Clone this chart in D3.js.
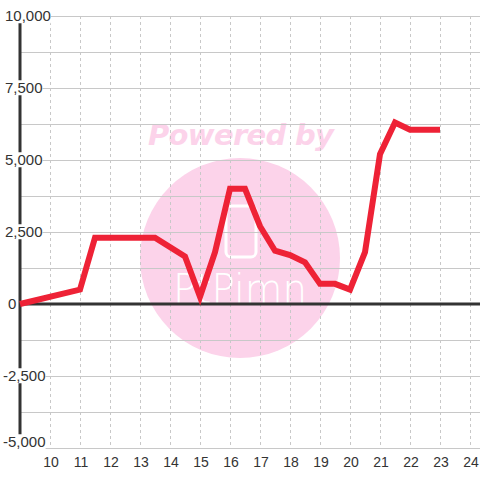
<!DOCTYPE html>
<meta charset="utf-8">
<head>
  <title>Line chart</title>
</head>
<script src="https://d3js.org/d3.v7.min.js"></script>
<body style="margin:0;background:#fff">
  <div id="my_dataviz"></div>
</body>

<script>
  // data
  var xValues = [9, 11, 11.5, 13.5, 14.5, 15, 15.5, 16, 16.5, 17, 17.5, 18, 18.5, 19, 19.5, 20, 20.5, 21, 21.5, 22, 23];
  var yValues = [0, 500, 2300, 2300, 1650, 250, 1800, 4000, 4000, 2700, 1850, 1700, 1450, 700, 700, 500, 1800, 5200, 6300, 6050, 6050];
  var xTicks = [10, 11, 12, 13, 14, 15, 16, 17, 18, 19, 20, 21, 22, 23, 24];
  var yTicks = [10000, 7500, 5000, 2500, 0, -2500, -5000];
  var yGrid = d3.range(-5000, 10001, 1250);

  var data = xValues.map(function (d, i) { return { x: d, y: yValues[i] } });

  var width = 480, height = 480;
  var svg = d3.select("#my_dataviz")
    .append("svg")
    .attr("width", width)
    .attr("height", height)
    .style("display", "block")
    .style("font-family", "'Liberation Sans', Arial, sans-serif");

  var x = d3.scaleLinear().domain([9, 24 + 1 / 3]).range([20, 480]);
  var y = d3.scaleLinear().domain([-5000, 10000]).range([448, 16]);

  // watermark sits under the grid
  var wm = svg.append("g");
  wm.append("text")
    .attr("x", 241).attr("y", 145)
    .attr("text-anchor", "middle")
    .attr("font-family", "'DejaVu Sans', sans-serif")
    .attr("font-weight", "bold")
    .attr("font-style", "italic")
    .attr("font-size", 29)
    .attr("textLength", 186)
    .attr("fill", "#fcd3ea")
    .text("Powered by");
  wm.append("circle")
    .attr("cx", 240).attr("cy", 258).attr("r", 100)
    .attr("fill", "#fcd3ea");
  wm.append("rect")
    .attr("x", 226).attr("y", 206).attr("width", 30).attr("height", 51).attr("rx", 5)
    .attr("fill", "none").attr("stroke", "#fff").attr("stroke-width", 3);
  wm.append("text")
    .attr("x", 240).attr("y", 303)
    .attr("text-anchor", "middle")
    .attr("font-family", "'DejaVu Sans', sans-serif")
    .attr("font-weight", 200)
    .attr("font-size", 40)
    .attr("textLength", 134)
    .attr("lengthAdjust", "spacingAndGlyphs")
    .attr("fill", "#fff")
    .text("PtPimn");

  // grid
  svg.append("g")
    .selectAll("line")
    .data(yGrid)
    .enter().append("line")
    .attr("x1", 20).attr("x2", 480)
    .attr("y1", function (d) { return y(d) + 0.5 })
    .attr("y2", function (d) { return y(d) + 0.5 })
    .attr("stroke", "#c8c8c8").attr("stroke-width", 1);

  svg.append("g")
    .selectAll("line")
    .data(xTicks)
    .enter().append("line")
    .attr("x1", function (d) { return Math.round(x(d)) + 0.5 })
    .attr("x2", function (d) { return Math.round(x(d)) + 0.5 })
    .attr("y1", y(10000)).attr("y2", y(-5000))
    .attr("stroke", "#c8c8c8").attr("stroke-width", 1)
    .attr("stroke-dasharray", "3,3");

  // axis lines
  svg.append("line")
    .attr("x1", x(9)).attr("x2", x(9))
    .attr("y1", y(10000)).attr("y2", y(-5000))
    .attr("stroke", "#333").attr("stroke-width", 3);
  svg.append("line")
    .attr("x1", x(9)).attr("x2", 480)
    .attr("y1", y(0)).attr("y2", y(0))
    .attr("stroke", "#333").attr("stroke-width", 3);

  // x labels
  svg.append("g")
    .selectAll("text")
    .data(xTicks)
    .enter().append("text")
    .attr("x", function (d) { return x(d) + 1 })
    .attr("y", 467)
    .attr("text-anchor", "middle")
    .attr("font-size", 14)
    .attr("fill", "#333")
    .text(function (d) { return d });

  // y labels with white boxes that cut the axis line
  var fmt = function (d) { return d3.format(",")(d).replace("\u2212", "-") };
  var ylab = svg.append("g")
    .selectAll("g")
    .data(yTicks)
    .enter().append("g")
    .attr("transform", function (d) {
      var ty = Math.min(y(d), 442);
      var tx = d == 0 ? 8 : (d < 0 ? 3 : 5);
      return "translate(" + tx + "," + ty + ")";
    });
  ylab.append("text")
    .attr("dy", "0.35em")
    .attr("font-size", 15)
    .attr("fill", "#333")
    .text(function (d) { return fmt(d) });
  ylab.each(function () {
    var g = d3.select(this);
    var b = g.select("text").node().getBBox();
    g.insert("rect", "text")
      .attr("x", b.x).attr("y", b.y + 1)
      .attr("width", b.width).attr("height", b.height - 2)
      .attr("fill", "#fff");
  });

  // series
  svg.append("path")
    .datum(data)
    .attr("d", d3.line()
      .x(function (d) { return x(d.x) })
      .y(function (d) { return y(d.y) })
    )
    .attr("fill", "none")
    .attr("stroke", "#ee2236")
    .attr("stroke-width", 6)
    .attr("stroke-linejoin", "miter");
</script>
